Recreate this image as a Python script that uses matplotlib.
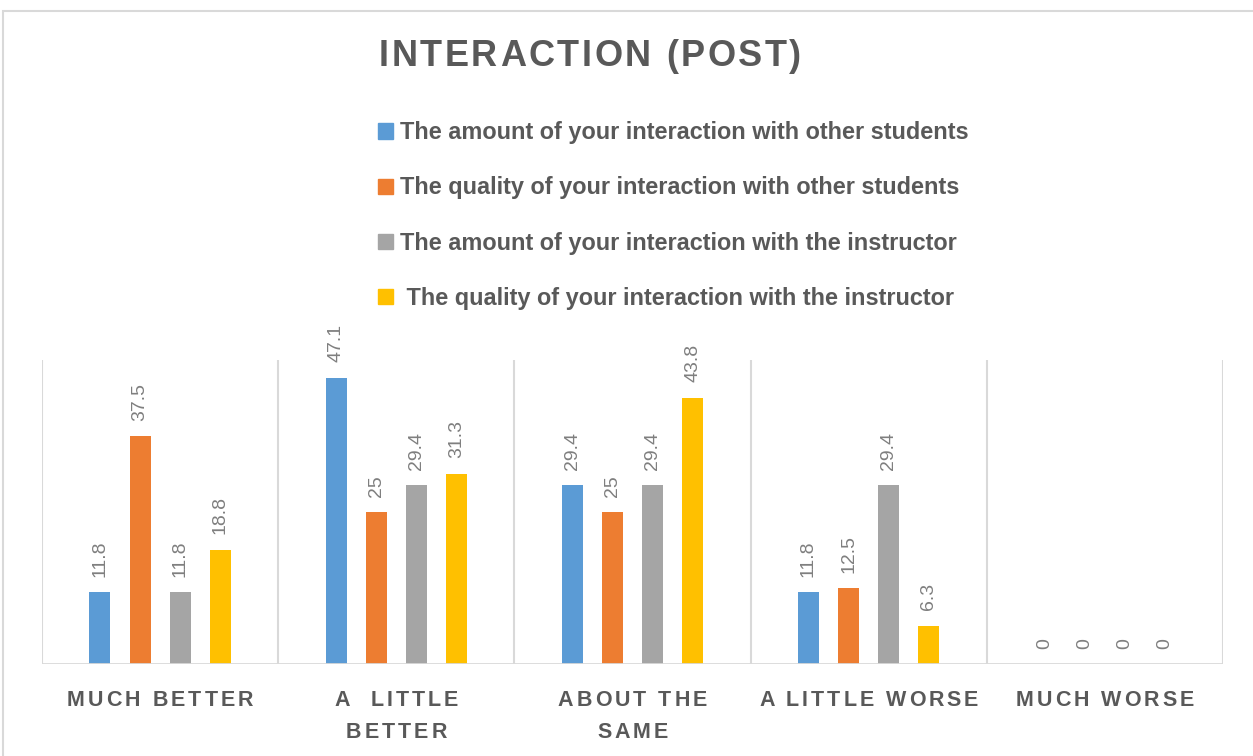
import numpy as np
import matplotlib
matplotlib.use('Agg')
import matplotlib.pyplot as plt
from matplotlib.patches import Rectangle, Patch

plt.rcParams['font.family'] = ['Liberation Sans', 'DejaVu Sans']

# Data
categories = ['MUCH BETTER', 'A  LITTLE\nBETTER', 'ABOUT THE\nSAME', 'A LITTLE WORSE', 'MUCH WORSE']
series_names = [
    'The amount of your interaction with other students',
    'The quality of your interaction with other students',
    'The amount of your interaction with the instructor',
    ' The quality of your interaction with the instructor',
]
amount_students = [11.8, 47.1, 29.4, 11.8, 0]
quality_students = [37.5, 25, 25, 12.5, 0]
amount_instructor = [11.8, 29.4, 29.4, 29.4, 0]
quality_instructor = [18.8, 31.3, 43.8, 6.3, 0]
series = [amount_students, quality_students, amount_instructor, quality_instructor]
colors = ['#5B9BD5', '#ED7D31', '#A5A5A5', '#FFC000']

text_color = '#595959'
grid_color = '#D9D9D9'

W, H = 1253, 756
fig = plt.figure(figsize=(W / 100, H / 100), dpi=100)
renderer = fig.canvas.get_renderer()


def text_width(s, **kw):
    t = fig.text(0, 0, s, **kw)
    w = t.get_window_extent(renderer).width
    t.remove()
    return w


def spaced_text(cx, cy, s, spacing, **kw):
    # letter-spaced text centred at pixel (cx, cy), measured from top-left
    full = text_width(s, **kw) + spacing * (len(s) - 1)
    x0 = cx - full / 2
    for i, ch in enumerate(s):
        if ch == ' ':
            continue
        left = text_width(s[:i + 1], **kw) - text_width(ch, **kw)
        fig.text((x0 + left + i * spacing) / W, 1 - cy / H, ch,
                 ha='left', va='center', **kw)


ax = fig.add_axes([42 / W, 1 - 664 / H, (1223 - 42) / W, (664 - 360) / H])

x = np.arange(len(categories))
bar_w = 0.089
step = 0.17
offsets = [-1.5 * step, -0.5 * step, 0.5 * step, 1.5 * step]

for vals, col, off in zip(series, colors, offsets):
    bars = ax.bar(x + off, vals, width=bar_w, color=col, zorder=3)
    for b, v in zip(bars, vals):
        ax.annotate(f'{v:g}', (b.get_x() + b.get_width() / 2, v),
                    textcoords='offset points', xytext=(0, 11),
                    rotation=90, ha='center', va='bottom',
                    fontsize=14, color='#7F7F7F')

ax.set_xlim(-0.5, len(categories) - 0.5)
ax.set_ylim(0, 50)
for s in ax.spines.values():
    s.set_visible(False)
ax.set_yticks([])
ax.set_xticks([])

# category separators and baseline
for b in np.arange(-0.5, len(categories), 1):
    ax.axvline(b, color=grid_color, lw=1.5, zorder=1)
ax.axhline(0, color=grid_color, lw=2, zorder=4)

# category labels (letter-spaced, bold)
lab_kw = dict(fontsize=15.5, fontweight='bold', color=text_color)
for xi, lab in zip(x, categories):
    cx = ax.transData.transform((xi, 0))[0]
    for j, line in enumerate(lab.split('\n')):
        spaced_text(cx, 700 + 32 * j, line, 3.0, **lab_kw)

spaced_text(590, 57, 'INTERACTION (POST)', 2.6,
            fontsize=26, fontweight='bold', color=text_color)

handles = [Patch(color=c) for c in colors]
fig.legend(handles, series_names, loc='upper left',
           bbox_to_anchor=(0.2945, 0.852), frameon=False,
           prop={'size': 16.9, 'weight': 'bold'}, labelcolor=text_color,
           handlelength=0.62, handleheight=0.62, handletextpad=0.3,
           labelspacing=1.37, borderaxespad=0)

# outer chart border
fig.patches.append(Rectangle((0.0024, -0.01), 1.2, 0.9954, transform=fig.transFigure,
                             fill=False, edgecolor=grid_color, lw=1.5))

fig.savefig('out.png', dpi=100)
